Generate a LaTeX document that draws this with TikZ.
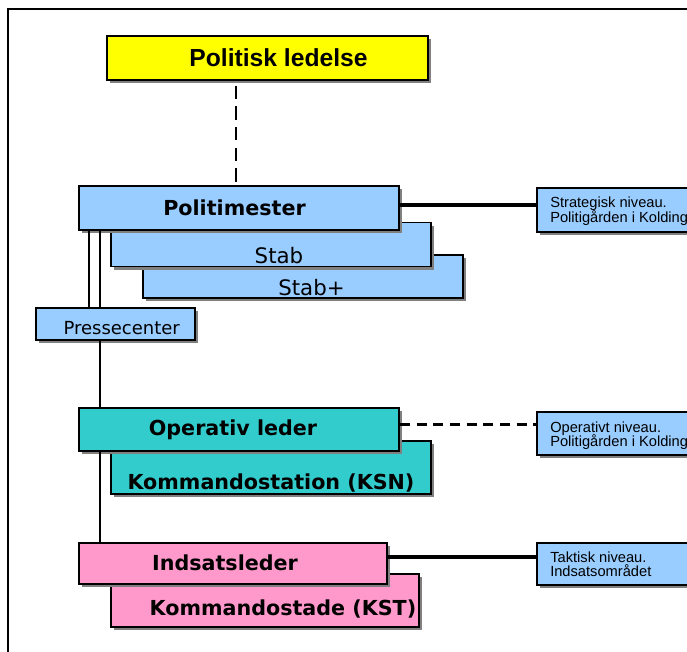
\documentclass[tikz,border=0pt]{standalone}
\usepackage{fontspec}
\setmainfont{Liberation Sans}
\newfontfamily\dv{DejaVu Sans}
\usetikzlibrary{shadows}
\definecolor{cyel}{HTML}{FFFF00}
\definecolor{cblue}{HTML}{99CCFF}
\definecolor{cteal}{HTML}{33CCCC}
\definecolor{cpink}{HTML}{FF99CC}
\definecolor{cshadow}{HTML}{808080}
\tikzset{
  box/.style={draw=black, line width=1.3pt, rectangle, inner sep=0pt,
    drop shadow={shadow xshift=2.6pt, shadow yshift=-2.6pt, fill=cshadow, opacity=1}},
  conn/.style={draw=black, line width=1.1pt},
  dashconn/.style={draw=black, line width=2.2pt, dash pattern=on 7.5pt off 5pt},
  solidconn/.style={draw=black, line width=2.6pt},
  bigtxt/.style={font=\dv\bfseries\fontsize{15.5}{18}\selectfont, inner sep=0pt},
  midtxt/.style={font=\dv\fontsize{16}{19}\selectfont, inner sep=0pt},
  smalltxt/.style={font=\fontsize{11}{13}\selectfont, inner sep=0pt, anchor=base west},
}
\begin{document}
\begin{tikzpicture}[x=0.75pt,y=-0.75pt]
\clip (0,0) rectangle (687,652);
\useasboundingbox (0,0) rectangle (687,652);
\draw[line width=1.5pt] (7.5,9.5) rectangle (760,720);

% Politisk ledelse
\node[box, fill=cyel, minimum width=321*0.75pt, minimum height=44*0.75pt] (pol) at (267.5,58) {};
\node[inner sep=0pt, font=\bfseries\fontsize{18.5}{21}\selectfont] (polT) at (278.5,58) {Politisk ledelse};

% Politimester group
\node[box, fill=cblue, minimum width=320*0.75pt, minimum height=43*0.75pt] (stabp) at (303,276.5) {};
\node[box, fill=cblue, minimum width=320*0.75pt, minimum height=44*0.75pt] (stab) at (271,244.5) {};
\node[box, fill=cblue, minimum width=320*0.75pt, minimum height=44*0.75pt] (pm) at (239,208) {};
\node[bigtxt] (pmT) at (234.5,208) {Politimester};
\node[midtxt] (stabT) at (279,256) {Stab};
\node[midtxt] (stabpT) at (311.5,287.5) {Stab+};

% Pressecenter
\node[box, fill=cblue, minimum width=159*0.75pt, minimum height=32*0.75pt] (press) at (115.5,324) {};
\node[inner sep=0pt, font=\dv\fontsize{13.5}{16}\selectfont] (pressT) at (121.7,328) {Pressecenter};

% Operativ leder group
\node[box, fill=cteal, minimum width=320*0.75pt, minimum height=53*0.75pt] (ksn) at (271,467.5) {};
\node[box, fill=cteal, minimum width=320*0.75pt, minimum height=43*0.75pt] (op) at (239,429.5) {};
\node[bigtxt] (opT) at (233,429.5) {Operativ leder};
\node[bigtxt] (ksnT) at (271,483) {Kommandostation (KSN)};

% Indsatsleder group
\node[box, fill=cpink, minimum width=308*0.75pt, minimum height=53*0.75pt] (kst) at (265,600.5) {};
\node[box, fill=cpink, minimum width=308*0.75pt, minimum height=41*0.75pt] (ind) at (233,563.5) {};
\node[bigtxt] (indT) at (225,563) {Indsatsleder};
\node[bigtxt] (kstT) at (283,609) {Kommandostade (KST)};

% Right-hand level boxes
\node[box, fill=cblue, minimum width=200*0.75pt, minimum height=44*0.75pt] (strat) at (637,210) {};
\node[box, fill=cblue, minimum width=200*0.75pt, minimum height=43*0.75pt] (opn) at (637,433.5) {};
\node[box, fill=cblue, minimum width=200*0.75pt, minimum height=42*0.75pt] (tak) at (637,564) {};
\node[smalltxt] (strat1) at (550,208) {Strategisk niveau.};
\node[smalltxt] (strat2) at (550,223) {Politigården i Kolding};
\node[smalltxt] (opn1) at (550,432.5) {Operativt niveau.};
\node[smalltxt] (opn2) at (550,446.5) {Politigården i Kolding};
\node[smalltxt] (tak1) at (550,563) {Taktisk niveau.};
\node[smalltxt] (tak2) at (550,577) {Indsatsområdet};

% Connectors
\coordinate (dv) at (236,0);
\coordinate (va) at (89,0);
\coordinate (vb) at (100,0);
\draw[line width=2.2pt, dash pattern=on 10pt off 5.5pt] ([yshift=-3.5pt]dv |- pol.south) -- (dv |- pm.north);
\draw[conn] (va |- pm.south) -- (va |- press.north);
\draw[conn] (vb |- pm.south) -- (vb |- press.north);
\draw[conn] (vb |- press.south) -- (vb |- op.north);
\draw[conn] (vb |- op.south) -- (vb |- ind.north);
\draw[solidconn] ([yshift=2.2pt]pm.east) -- ([yshift=2.2pt]pm.east -| strat.west);
\draw[dashconn] ([yshift=4pt]op.east) -- ([yshift=4pt]op.east -| opn.west);
\draw[solidconn] ([yshift=5pt]ind.east) -- ([yshift=5pt]ind.east -| tak.west);
\end{tikzpicture}
\end{document}
